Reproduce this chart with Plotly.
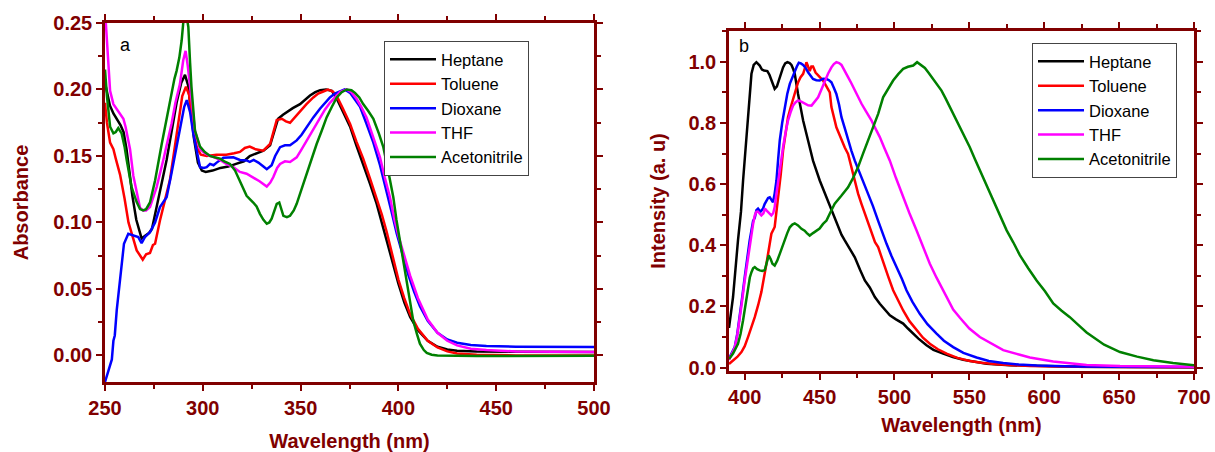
import plotly.graph_objects as go

# ---------------- Panel a : absorbance ----------------
abs_hep_x = [250, 251, 252.5, 254.3, 256, 258, 259.5, 261, 262.5, 264, 266, 268.7, 270.5, 272.5, 274, 276.4, 279, 281.5, 284, 286.6, 289, 290.9, 292.5, 294, 295.5, 297.5, 299.5, 301.5, 305, 309, 313, 317, 321, 324, 327.6, 331, 334.4, 336.5, 338.5, 341, 343, 346, 349.7, 352, 354.8, 357.5, 360, 363, 366, 368.5, 371.5, 375.3, 378.5, 382, 385.5, 388.9, 391.5, 394, 397, 400, 403, 406, 410, 415, 420, 425, 430, 440, 460, 500]
abs_hep_y = [0.205, 0.198, 0.188, 0.182, 0.178, 0.173, 0.168, 0.155, 0.138, 0.12, 0.102, 0.088, 0.09, 0.092, 0.095, 0.111, 0.128, 0.147, 0.168, 0.19, 0.205, 0.211, 0.203, 0.183, 0.163, 0.145, 0.139, 0.138, 0.139, 0.141, 0.142, 0.144, 0.146, 0.150, 0.152, 0.154, 0.158, 0.168, 0.178, 0.181, 0.183, 0.186, 0.189, 0.192, 0.1955, 0.198, 0.1995, 0.2, 0.199, 0.193, 0.184, 0.172, 0.158, 0.144, 0.129, 0.114, 0.100, 0.087, 0.070, 0.054, 0.040, 0.029, 0.019, 0.011, 0.0065, 0.0045, 0.0035, 0.003, 0.0027, 0.0025]

abs_tol_x = [250, 251, 252.6, 254.3, 255.5, 257.7, 260, 262, 264.4, 266.2, 268, 269.3, 271, 273, 274.5, 275.6, 278.1, 280.7, 283.2, 285.5, 287.5, 289.5, 291.4, 293, 295.1, 297, 299, 302, 307, 312, 316, 319, 321.5, 324, 327, 330.9, 334.4, 336, 337.8, 340.4, 342.5, 344.6, 347, 349.7, 353, 356.5, 359, 361.6, 364, 366.5, 368.5, 371.5, 375.3, 378.5, 382, 385.5, 388.9, 391.5, 394, 397, 400, 403, 406, 410, 415, 420, 425, 430, 440, 460, 500]
abs_tol_y = [0.19, 0.175, 0.16, 0.155, 0.148, 0.136, 0.118, 0.1, 0.088, 0.079, 0.075, 0.072, 0.076, 0.077, 0.083, 0.084, 0.1015, 0.1165, 0.132, 0.155, 0.177, 0.195, 0.202, 0.196, 0.171, 0.156, 0.151, 0.150, 0.151, 0.151, 0.152, 0.153, 0.156, 0.157, 0.155, 0.154, 0.159, 0.168, 0.177, 0.178, 0.176, 0.175, 0.179, 0.183, 0.189, 0.194, 0.197, 0.1985, 0.2, 0.1985, 0.195, 0.186, 0.174, 0.161, 0.148, 0.133, 0.118, 0.106, 0.093, 0.074, 0.057, 0.043, 0.031, 0.020, 0.011, 0.006, 0.003, 0.0015, 0.0005, 0.0, 0.0]

abs_dio_x = [250, 250.5, 252.6, 253.5, 254.3, 255, 256, 257.7, 259.7, 261.9, 263, 264.5, 267, 268.7, 270.4, 273, 275.6, 278.1, 281.5, 284, 286.6, 289, 290.5, 291.8, 293.5, 295.1, 297, 298.6, 300.5, 302, 303.7, 305.5, 307.1, 310.5, 315.6, 319, 322.4, 324, 326, 328.4, 331, 332.7, 335.2, 337, 339.5, 342, 344.6, 348, 350.5, 353.1, 356.5, 359.9, 362.5, 365, 367.5, 370.1, 372.5, 375.3, 378, 380.4, 383.5, 387.2, 390.6, 394, 396.5, 399.1, 402, 405, 408, 411, 415, 420, 425, 430, 437, 445, 460, 500]
abs_dio_y = [-0.02, -0.0175, -0.006, -0.003, 0.011, 0.015, 0.034, 0.059, 0.084, 0.0915, 0.091, 0.09, 0.089, 0.0845, 0.089, 0.0927, 0.1, 0.1115, 0.119, 0.137, 0.157, 0.177, 0.187, 0.192, 0.183, 0.167, 0.152, 0.1416, 0.141, 0.1416, 0.144, 0.143, 0.145, 0.1486, 0.149, 0.147, 0.1466, 0.1455, 0.147, 0.145, 0.142, 0.140, 0.143, 0.150, 0.1566, 0.158, 0.158, 0.1617, 0.166, 0.1717, 0.179, 0.1855, 0.19, 0.194, 0.197, 0.1988, 0.2, 0.1975, 0.192, 0.187, 0.175, 0.160, 0.143, 0.124, 0.108, 0.092, 0.076, 0.061, 0.048, 0.037, 0.026, 0.017, 0.012, 0.0095, 0.0078, 0.007, 0.0066, 0.0063]

abs_thf_x = [250, 251, 252.6, 254.3, 256, 257.7, 259.4, 260.5, 262.8, 264.5, 266.2, 267.9, 269.5, 271, 273, 276.4, 279.8, 284, 286, 288.3, 290, 291.2, 292.3, 293.5, 296, 298.6, 301, 303.7, 306, 308.8, 312, 315.6, 319, 322.4, 325.8, 329, 332.7, 334.5, 336, 338, 339.5, 342, 344.6, 348, 350.5, 353.1, 356.5, 359.9, 362.5, 365, 367.5, 370.1, 373.5, 376, 378.6, 381, 383.7, 387, 390.6, 393, 395.7, 398, 400, 403, 406, 410, 415, 420, 425, 430, 437, 445, 460, 500]
abs_thf_y = [0.26, 0.235, 0.199, 0.189, 0.185, 0.181, 0.178, 0.172, 0.155, 0.135, 0.123, 0.111, 0.109, 0.109, 0.1115, 0.1266, 0.147, 0.174, 0.19, 0.204, 0.222, 0.229, 0.218, 0.202, 0.169, 0.155, 0.152, 0.150, 0.149, 0.147, 0.144, 0.1416, 0.138, 0.1366, 0.134, 0.131, 0.127, 0.130, 0.134, 0.141, 0.144, 0.146, 0.1455, 0.149, 0.155, 0.1617, 0.170, 0.179, 0.185, 0.190, 0.194, 0.198, 0.2, 0.198, 0.193, 0.187, 0.179, 0.165, 0.149, 0.134, 0.119, 0.102, 0.09, 0.075, 0.060, 0.043, 0.027, 0.017, 0.011, 0.0075, 0.005, 0.004, 0.003, 0.0025]

abs_acn_x = [250, 251, 252.6, 254.3, 255.5, 256.8, 258.5, 260, 261.1, 263.6, 266.2, 267.9, 269.5, 271, 273, 275.6, 279, 281.5, 284, 285.5, 286.6, 288, 289.2, 290.3, 291.2, 292.6, 293.5, 294.2, 296, 298.6, 301, 303.7, 306, 308.8, 311, 313.9, 316.5, 319, 322.4, 325.8, 327.5, 329.2, 331, 332.7, 334, 335.2, 336.5, 337.8, 339.1, 340, 341.2, 343, 344.6, 346.5, 348, 350.5, 353.1, 355.5, 358.2, 360.8, 363.3, 366, 368.5, 371, 373.6, 376, 377.8, 380, 382, 384.5, 387.2, 390, 392.3, 394.5, 397.4, 399, 400.8, 402.5, 404.2, 406, 407.6, 409.5, 411, 413, 414.5, 417, 420, 440, 500]
abs_acn_y = [0.215, 0.195, 0.172, 0.167, 0.168, 0.171, 0.167, 0.157, 0.147, 0.1266, 0.1153, 0.110, 0.109, 0.11, 0.115, 0.1316, 0.159, 0.179, 0.199, 0.208, 0.214, 0.224, 0.237, 0.255, 0.26, 0.247, 0.22, 0.202, 0.169, 0.157, 0.153, 0.150, 0.149, 0.148, 0.146, 0.144, 0.139, 0.131, 0.120, 0.115, 0.112, 0.1065, 0.102, 0.099, 0.100, 0.1028, 0.109, 0.114, 0.115, 0.110, 0.105, 0.104, 0.105, 0.109, 0.114, 0.125, 0.1366, 0.148, 0.159, 0.169, 0.179, 0.187, 0.194, 0.198, 0.2, 0.1995, 0.1975, 0.194, 0.189, 0.184, 0.178, 0.167, 0.1566, 0.141, 0.119, 0.102, 0.086, 0.07, 0.054, 0.039, 0.026, 0.016, 0.0088, 0.004, 0.0018, 0.0005, 0.0, -0.0005, -0.0003]

# ---------------- Panel b : emission ----------------
em_hep_x = [389.5, 392.2, 395.5, 397.5, 398.9, 400.5, 402.2, 403.5, 404.5, 406, 407.8, 410, 411.5, 412.9, 415.1, 416.5, 417.8, 420, 421.5, 422.7, 424, 425.6, 427, 428.5, 430, 431.2, 432.5, 433.4, 435.6, 437.5, 439, 442.3, 445.6, 450.1, 454.6, 460.1, 464.6, 466.8, 470, 473.5, 477, 480.2, 483.5, 486.9, 490.2, 493.5, 496.9, 501, 505.8, 509, 512.5, 516, 521.4, 526, 532.5, 539, 545.9, 553, 561.5, 577, 595, 620, 650, 700]
em_hep_y = [0.13, 0.231, 0.416, 0.51, 0.612, 0.72, 0.819, 0.9, 0.961, 0.99, 0.999, 0.988, 0.975, 0.972, 0.97, 0.958, 0.939, 0.912, 0.92, 0.939, 0.962, 0.982, 0.995, 0.999, 0.996, 0.99, 0.975, 0.961, 0.895, 0.85, 0.808, 0.743, 0.677, 0.612, 0.557, 0.492, 0.435, 0.416, 0.39, 0.361, 0.32, 0.285, 0.262, 0.231, 0.209, 0.19, 0.171, 0.158, 0.144, 0.128, 0.111, 0.095, 0.073, 0.058, 0.046, 0.035, 0.026, 0.019, 0.013, 0.008, 0.005, 0.003, 0.002, 0.001]

em_tol_x = [389.5, 392, 395, 397.8, 400, 402.2, 404.5, 406.7, 409, 411.1, 414.5, 417.8, 420, 422.3, 424, 425.6, 427.3, 428.9, 430.6, 432.3, 434, 435.6, 437.3, 439, 440.2, 441.2, 442.3, 443.4, 444.5, 445.6, 447.3, 449, 450.7, 452.3, 454, 455.7, 456.8, 457.9, 459.5, 461.2, 463, 464.6, 466.8, 469, 470.7, 472.4, 474, 475.7, 478, 480.2, 482.4, 484.7, 487, 489.1, 491, 493.1, 496, 499.1, 502.5, 505.8, 510, 514.7, 519, 523.6, 529, 534.8, 542, 550.3, 558, 568.2, 580, 590.4, 620, 650, 700]
em_tol_y = [0.012, 0.022, 0.035, 0.051, 0.07, 0.100, 0.13, 0.165, 0.205, 0.247, 0.34, 0.438, 0.46, 0.547, 0.63, 0.71, 0.77, 0.819, 0.85, 0.879, 0.91, 0.933, 0.95, 0.961, 0.98, 0.999, 0.985, 0.97, 0.985, 0.985, 0.965, 0.955, 0.945, 0.939, 0.925, 0.912, 0.9, 0.852, 0.82, 0.786, 0.765, 0.743, 0.72, 0.699, 0.665, 0.634, 0.6, 0.569, 0.535, 0.503, 0.47, 0.438, 0.41, 0.394, 0.365, 0.34, 0.295, 0.253, 0.218, 0.187, 0.152, 0.122, 0.098, 0.078, 0.06, 0.046, 0.032, 0.022, 0.016, 0.011, 0.007, 0.005, 0.003, 0.002, 0.001]

em_dio_x = [389.5, 391, 393.3, 395, 396.7, 398.3, 400, 401.7, 403.3, 405.6, 406.7, 407.8, 408.9, 410.5, 412.2, 413.3, 414.5, 415.6, 416.7, 417.8, 418.9, 420, 421.2, 422.3, 423.4, 425, 426.7, 428.4, 430.1, 431.8, 433.4, 434.8, 436.1, 437.5, 439, 440.7, 442.3, 444, 445.6, 447.8, 450.1, 452.3, 454.6, 456.3, 457.9, 459.5, 461.2, 463, 464.6, 467, 469, 471.2, 473.5, 475.7, 478, 480.2, 482.4, 485.5, 489.1, 492, 494.7, 498, 501.4, 505, 508, 512, 516.9, 522, 528.1, 533, 539.2, 546, 554.8, 563, 572.6, 583, 594.9, 620, 650, 700]
em_dio_y = [0.03, 0.045, 0.067, 0.11, 0.165, 0.23, 0.296, 0.36, 0.416, 0.48, 0.49, 0.515, 0.52, 0.51, 0.52, 0.535, 0.547, 0.555, 0.557, 0.548, 0.541, 0.57, 0.612, 0.68, 0.743, 0.8, 0.852, 0.895, 0.928, 0.95, 0.966, 0.985, 0.997, 0.995, 0.99, 0.98, 0.966, 0.955, 0.944, 0.94, 0.939, 0.945, 0.944, 0.94, 0.933, 0.915, 0.895, 0.86, 0.819, 0.78, 0.743, 0.71, 0.677, 0.65, 0.623, 0.596, 0.569, 0.53, 0.48, 0.44, 0.405, 0.365, 0.329, 0.29, 0.253, 0.215, 0.176, 0.142, 0.111, 0.088, 0.067, 0.048, 0.033, 0.022, 0.015, 0.01, 0.007, 0.004, 0.003, 0.002]

em_thf_x = [389.5, 391, 393.3, 395, 396.7, 398.3, 400, 401.7, 403.3, 404.5, 405.6, 406.7, 407.8, 408.9, 410, 411.1, 412.5, 413.5, 414.5, 416, 417.8, 419, 420, 421.2, 422.3, 424, 425.6, 427.3, 428.9, 430.6, 432.3, 434, 435.6, 437.8, 440.1, 442.3, 444.6, 446.8, 449, 451.2, 453.5, 455.7, 457.9, 459.5, 461.2, 463, 464.6, 466.8, 469, 471.2, 473.5, 475.7, 478, 481, 484.7, 487.5, 490.2, 493.1, 496.9, 501, 505.8, 510, 514.7, 519, 523.6, 528, 532.5, 539.2, 543.7, 550, 557, 561.5, 572.6, 583.7, 590.4, 606, 612.7, 628.3, 650.6, 675, 700]
em_thf_y = [0.025, 0.04, 0.065, 0.105, 0.16, 0.22, 0.285, 0.345, 0.395, 0.427, 0.47, 0.498, 0.51, 0.51, 0.505, 0.498, 0.505, 0.52, 0.514, 0.505, 0.498, 0.505, 0.525, 0.57, 0.612, 0.67, 0.721, 0.77, 0.808, 0.835, 0.857, 0.868, 0.874, 0.87, 0.863, 0.858, 0.857, 0.87, 0.884, 0.91, 0.939, 0.962, 0.982, 0.993, 0.999, 0.996, 0.99, 0.972, 0.95, 0.93, 0.906, 0.885, 0.863, 0.838, 0.808, 0.78, 0.754, 0.72, 0.677, 0.62, 0.557, 0.505, 0.449, 0.395, 0.34, 0.295, 0.253, 0.19, 0.163, 0.128, 0.1, 0.087, 0.057, 0.042, 0.033, 0.02, 0.016, 0.009, 0.005, 0.004, 0.003]

em_acn_x = [389.5, 392.2, 395.5, 397.2, 398.9, 400.5, 402.2, 403.4, 404.5, 405.6, 406.7, 408.3, 410, 411.7, 413.4, 414.7, 416, 417.3, 418.5, 420, 421.7, 423.4, 425, 426.7, 428.4, 430.1, 431.8, 433.4, 435.6, 437.9, 440, 441.5, 443.4, 445.6, 447.9, 450, 452.3, 454.6, 457.4, 460.1, 464.5, 469, 472.3, 475.7, 479, 482.4, 485.7, 488, 489.1, 492.4, 495.8, 499.1, 502.5, 505.8, 509, 512.5, 515.1, 517.5, 520.3, 523, 525.8, 528.6, 531.4, 534.2, 537, 540.3, 543.7, 547, 550.3, 553.6, 557, 561.5, 565.9, 570.4, 574.9, 579.3, 583.7, 589.3, 594.9, 600.5, 606, 611.6, 617.1, 622.7, 628.3, 640, 650.6, 662, 672.9, 686, 700]
em_acn_y = [0.028, 0.046, 0.078, 0.11, 0.155, 0.21, 0.263, 0.295, 0.312, 0.325, 0.329, 0.322, 0.318, 0.316, 0.319, 0.34, 0.367, 0.355, 0.34, 0.334, 0.35, 0.372, 0.395, 0.416, 0.44, 0.459, 0.468, 0.472, 0.465, 0.454, 0.448, 0.44, 0.432, 0.44, 0.449, 0.455, 0.47, 0.481, 0.51, 0.536, 0.562, 0.59, 0.62, 0.656, 0.7, 0.743, 0.785, 0.819, 0.83, 0.884, 0.912, 0.939, 0.96, 0.977, 0.984, 0.988, 0.999, 0.99, 0.98, 0.963, 0.944, 0.926, 0.906, 0.88, 0.852, 0.82, 0.786, 0.755, 0.721, 0.683, 0.645, 0.596, 0.547, 0.497, 0.449, 0.41, 0.368, 0.325, 0.285, 0.25, 0.21, 0.186, 0.165, 0.14, 0.115, 0.075, 0.051, 0.036, 0.024, 0.015, 0.0075]

solvents = ["Heptane", "Toluene", "Dioxane", "THF", "Acetonitrile"]
colors = ["#000000", "#ff0000", "#0000ff", "#ff00ff", "#008000"]

abs_x = [abs_hep_x, abs_tol_x, abs_dio_x, abs_thf_x, abs_acn_x]
abs_y = [abs_hep_y, abs_tol_y, abs_dio_y, abs_thf_y, abs_acn_y]
em_x = [em_hep_x, em_tol_x, em_dio_x, em_thf_x, em_acn_x]
em_y = [em_hep_y, em_tol_y, em_dio_y, em_thf_y, em_acn_y]

W, H = 1215, 452
AX = "#800000"
FONT = "Liberation Sans, Arial, sans-serif"

fig = go.Figure()
for name, c, xs, ys in zip(solvents, colors, abs_x, abs_y):
    fig.add_trace(go.Scatter(x=xs, y=ys, mode="lines", name=name, line=dict(color=c, width=2.5),
                             xaxis="x", yaxis="y", legend="legend"))
for name, c, xs, ys in zip(solvents, colors, em_x, em_y):
    fig.add_trace(go.Scatter(x=xs, y=ys, mode="lines", name=name, line=dict(color=c, width=2.5),
                             xaxis="x2", yaxis="y2", legend="legend2"))


def axis(domain, rng, dtick, tick0, minor_dtick, fmt, title, standoff, anchor):
    return dict(
        domain=domain, range=rng, anchor=anchor, automargin=False,
        showgrid=False, zeroline=False,
        showline=True, linecolor=AX, linewidth=2.5, mirror="ticks",
        ticks="outside", ticklen=6, tickwidth=2, tickcolor=AX,
        tick0=tick0, dtick=dtick, tickformat=fmt,
        tickfont=dict(family=FONT, size=20, color=AX, weight="bold"),
        minor=dict(ticks="outside", ticklen=4, tickwidth=2, tickcolor=AX, dtick=minor_dtick, tick0=tick0, showgrid=False),
        title=dict(text=title, standoff=standoff, font=dict(family=FONT, size=20, color=AX, weight="bold")),
    )


def px_x(p):
    return p / W


def px_y(p):
    return 1 - p / H


LEG_FONT = dict(family=FONT, size=16.5, color="black")

fig.update_layout(
    width=W, height=H, autosize=False,
    margin=dict(l=0, r=0, t=0, b=0),
    paper_bgcolor="white", plot_bgcolor="white",
    template="none",
    xaxis=axis([px_x(105), px_x(594)], [250, 500], 50, 250, 25, "d", "Wavelength (nm)", 18, "y"),
    yaxis=axis([px_y(382), px_y(23)], [-0.02, 0.25], 0.05, 0, 0.025, ".2f", "Absorbance", 20, "x"),
    xaxis2=axis([px_x(729), px_x(1194)], [389.5, 700], 50, 400, 25, "d", "Wavelength (nm)", 12, "y2"),
    yaxis2=axis([px_y(371), px_y(31)], [-0.011, 1.101], 0.2, 0, 0.1, ".1f", "Intensity (a. u)", 18, "x2"),
    legend=dict(x=px_x(384), y=px_y(41), xanchor="left", yanchor="top",
                bgcolor="white", bordercolor="#444444", borderwidth=1,
                font=LEG_FONT, tracegroupgap=0, itemwidth=46),
    legend2=dict(x=px_x(1032), y=px_y(43), xanchor="left", yanchor="top",
                 bgcolor="white", bordercolor="#444444", borderwidth=1,
                 font=LEG_FONT, tracegroupgap=0, itemwidth=46),
    annotations=[
        dict(text="a", x=px_x(118), y=px_y(45), xref="paper", yref="paper", showarrow=False,
             xanchor="left", yanchor="middle", font=dict(family=FONT, size=18, color="black")),
        dict(text="b", x=px_x(737), y=px_y(46), xref="paper", yref="paper", showarrow=False,
             xanchor="left", yanchor="middle", font=dict(family=FONT, size=18, color="black")),
    ],
    showlegend=True,
)

fig.write_html("out.html")
